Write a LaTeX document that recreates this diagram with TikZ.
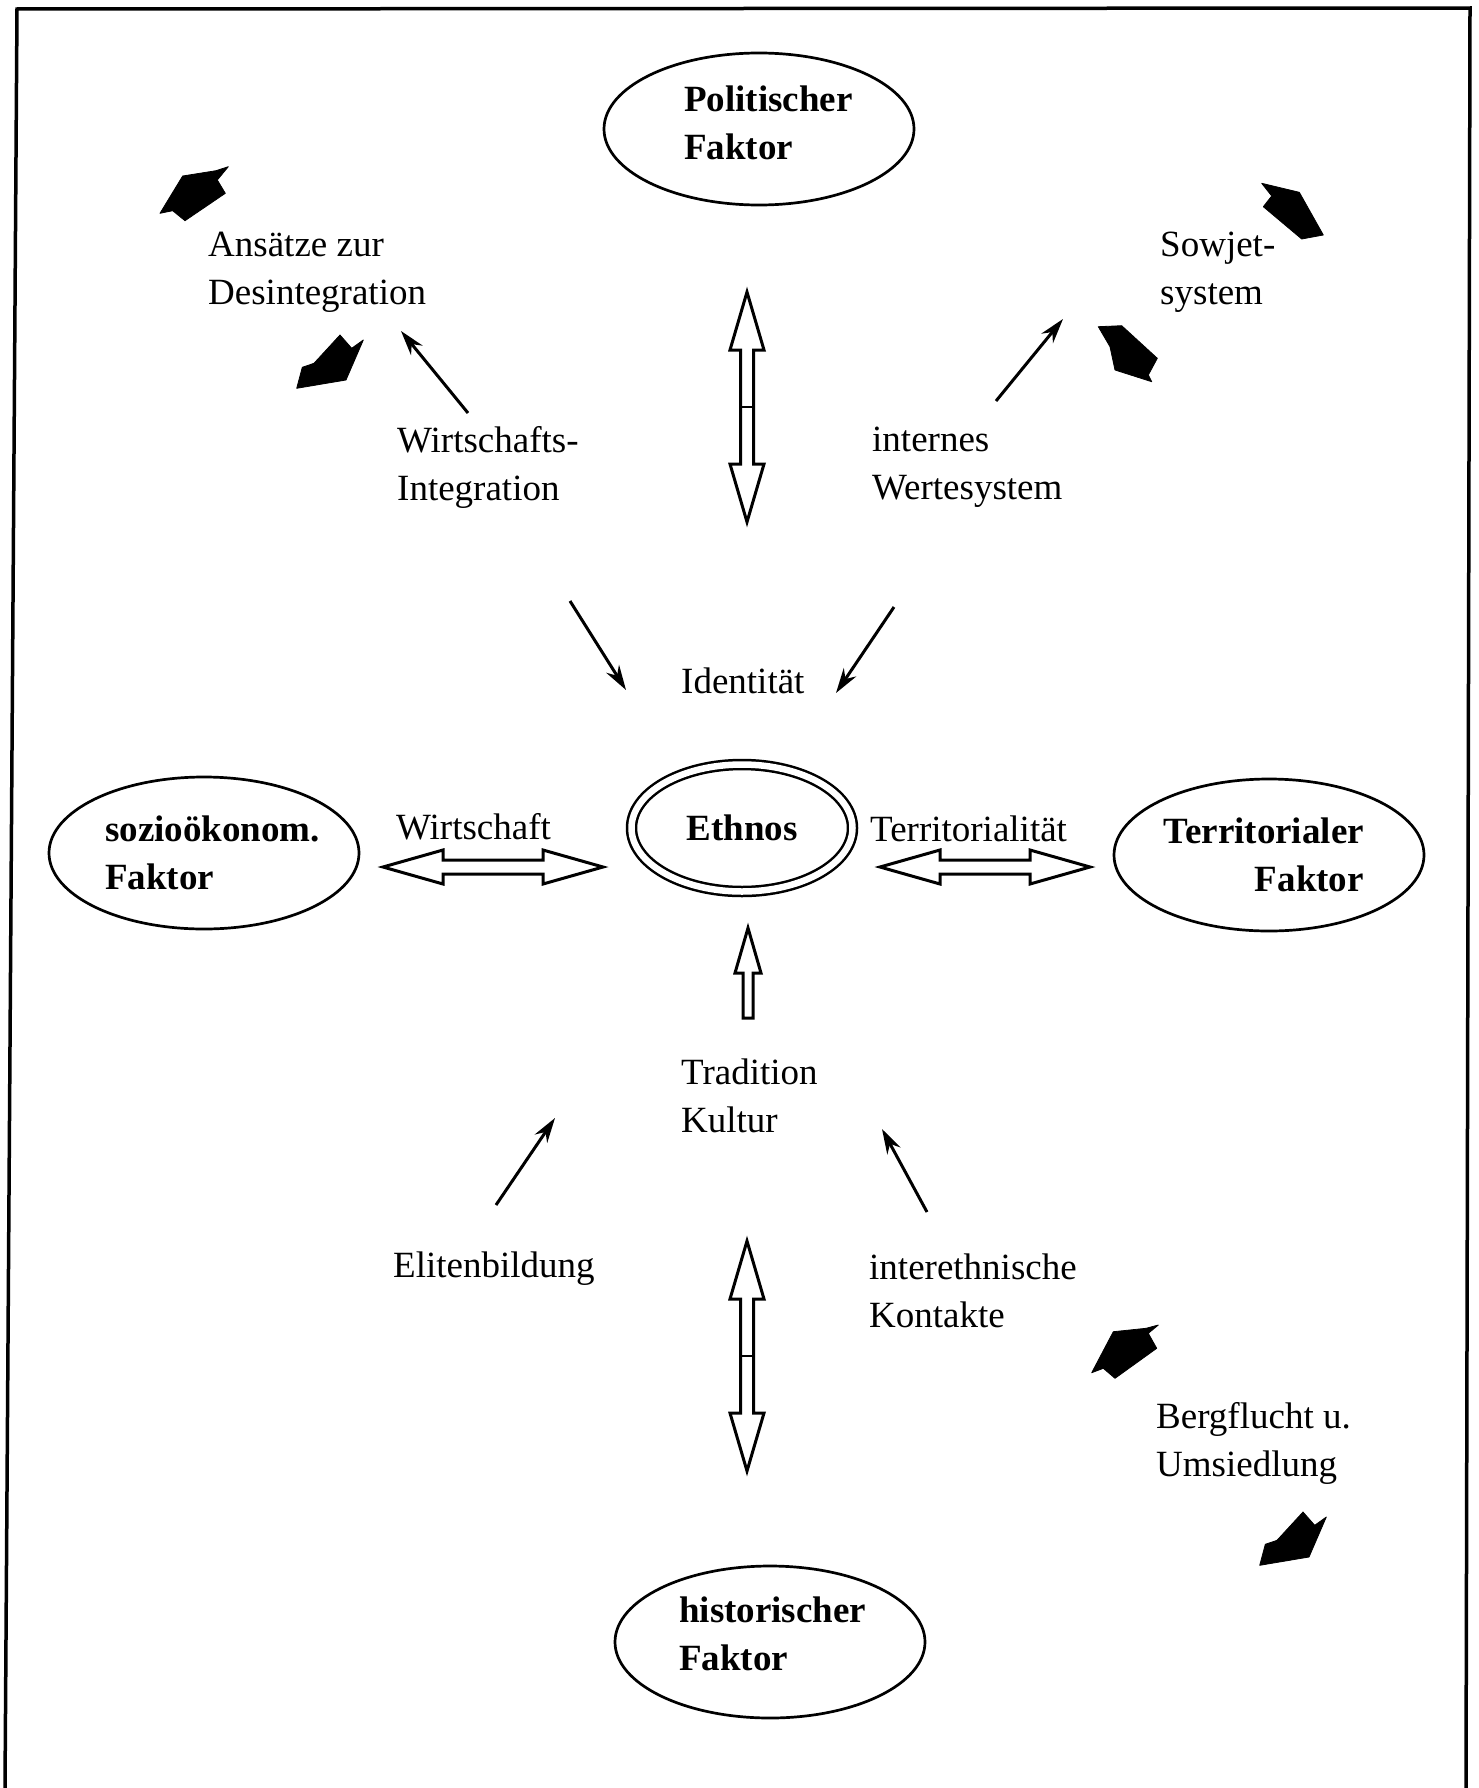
\documentclass[tikz,border=0pt]{standalone}
\usepackage{fontspec}
\setmainfont{Liberation Serif}
\usetikzlibrary{arrows.meta,shapes.geometric}
\begin{document}
\begin{tikzpicture}[x=1pt,y=-1pt,
  txt/.style={font=\fontsize{37}{48}\selectfont, align=left, inner sep=0pt, anchor=west},
  btxt/.style={txt, font=\fontsize{37}{48}\selectfont\bfseries},
  fac/.style={ellipse, draw, line width=2.7pt, minimum width=310pt, minimum height=152pt, inner sep=0pt},
  tarr/.style={line width=3pt, -{Stealth[length=25pt,width=15pt]}},
  hollow/.style={draw, line width=3pt, fill=white, line join=miter},
  blk/.style={fill=black, draw=black, line width=0.8pt, line join=round}
]
\useasboundingbox (0,0) rectangle (1478,1788);
% frame
\coordinate (fTL) at (17,9); \coordinate (fTR) at (1470,8);
\coordinate (fBL) at (5,1788); \coordinate (fBR) at (1466,1788);
\draw[line width=3.5pt] (fBL) -- (fTL) -- (fTR) -- (fBR);

% factor ellipses
\node[fac] (pol) at (759,129)  {};
\node[fac] (soz) at (204,853)  {};
\node[fac] (ter) at (1269,855) {};
\node[fac] (his) at (770,1642) {};
\node[ellipse, draw, double, double distance=6.5pt, line width=2.5pt, minimum width=221pt, minimum height=127pt, inner sep=0pt, font=\fontsize{37}{48}\selectfont\bfseries] (eth) at (742,828) {Ethnos};

\node[btxt] (polt) at (684,123) {Politischer\\Faktor};
\node[btxt] (sozt) at (105,853) {sozioökonom.\\Faktor};
\node[btxt, anchor=east, align=right] (tert) at (1364,855) {Territorialer\\Faktor};
\node[btxt] (hist) at (679,1634) {historischer\\Faktor};

% labels
\node[txt] (ans) at (208,272)  {Ansätze zur\\Desintegration};
\node[txt] (sow) at (1160,272) {Sowjet-\\system};
\node[txt] (wii) at (397,467)  {Wirtschafts-\\Integration};
\node[txt] (int) at (872,467)  {internes\\Wertesystem};
\node[txt] (ide) at (681,681)  {Identität};
\node[txt] (wir) at (396,827)  {Wirtschaft};
\node[txt] (trr) at (870,829)  {Territorialität};
\node[txt] (tra) at (681,1096) {Tradition\\Kultur};
\node[txt] (eli) at (393,1269) {Elitenbildung};
\node[txt] (iek) at (869,1291) {interethnische\\Kontakte};
\node[txt] (bdg) at (1156,1443) {Bergflucht u.\\Umsiedlung};

% thin arrows
\coordinate (a1s) at (468,413); \coordinate (a1e) at (401,331);
\coordinate (a2s) at (996,401); \coordinate (a2e) at (1063,319);
\coordinate (a3s) at (570,601); \coordinate (a3e) at (626,690);
\coordinate (a4s) at (894,607); \coordinate (a4e) at (836,693);
\coordinate (a5s) at (496,1205); \coordinate (a5e) at (555,1118);
\coordinate (a6s) at (927,1212); \coordinate (a6e) at (882,1129);
\draw[tarr] (a1s) -- (a1e);
\draw[tarr] (a2s) -- (a2e);
\draw[tarr] (a3s) -- (a3e);
\draw[tarr] (a4s) -- (a4e);
\draw[tarr] (a5s) -- (a5e);
\draw[tarr] (a6s) -- (a6e);

% hollow double arrows
\coordinate (v1) at (747,292);
\draw[hollow] (v1) -- ++(17,58) -- ++(-10.5,0) -- ++(0,114) -- ++(10.5,0) -- ++(-17,58) -- ++(-17,-58) -- ++(10.5,0) -- ++(0,-114) -- ++(-10.5,0) -- cycle;
\draw[line width=2.5pt] (740.5,407) -- (753.5,407);
\coordinate (v2) at (747,1241);
\draw[hollow] (v2) -- ++(17,58) -- ++(-10.5,0) -- ++(0,114) -- ++(10.5,0) -- ++(-17,58) -- ++(-17,-58) -- ++(10.5,0) -- ++(0,-114) -- ++(-10.5,0) -- cycle;
\draw[line width=2.5pt] (740.5,1356) -- (753.5,1356);
\coordinate (h1) at (383,867);
\draw[hollow] (h1) -- ++(60,-17) -- ++(0,10) -- ++(100,0) -- ++(0,-10) -- ++(60,17) -- ++(-60,17) -- ++(0,-10) -- ++(-100,0) -- ++(0,10) -- cycle;
\coordinate (h2) at (880,867);
\draw[hollow] (h2) -- ++(60,-17) -- ++(0,10) -- ++(90,0) -- ++(0,-10) -- ++(60,17) -- ++(-60,17) -- ++(0,-10) -- ++(-90,0) -- ++(0,10) -- cycle;
\coordinate (u1) at (748,928);
\draw[hollow] (u1) -- ++(13,45) -- ++(-8,0) -- ++(0,45) -- ++(-10,0) -- ++(0,-45) -- ++(-8,0) -- cycle;

% black block heads
\fill[blk] (160,213.3) -- (182.7,176) -- (216,170.7) -- (228.3,166.7) -- (217.3,180) -- (225.3,193.3) -- (185,220.7) -- (172.7,210.7) -- cycle;
\fill[blk] (296.7,388.3) -- (302.3,367.3) -- (314,363.3) -- (340,335) -- (351.7,348.3) -- (363.3,340) -- (346,380) -- cycle;
\fill[blk] (1261.7,183.3) -- (1299.3,192.3) -- (1323.3,235) -- (1301.7,239) -- (1263.3,206.7) -- (1271.7,196) -- cycle;
\fill[blk] (1098.3,326.7) -- (1121.7,325.7) -- (1157.3,358.3) -- (1148.3,375) -- (1151.7,381.7) -- (1115,370) -- (1110,346.7) -- cycle;
\fill[blk] (1091.7,1372.7) -- (1113.3,1331.7) -- (1146,1328.3) -- (1158.3,1325) -- (1148.3,1333.3) -- (1156.7,1348.3) -- (1115,1378.3) -- (1103.3,1368.3) -- cycle;
\fill[blk] (1259.7,1565.3) -- (1265.3,1544.3) -- (1277,1540.3) -- (1303,1512) -- (1314.7,1525.3) -- (1326.3,1517) -- (1309,1557) -- cycle;
\end{tikzpicture}
\end{document}
